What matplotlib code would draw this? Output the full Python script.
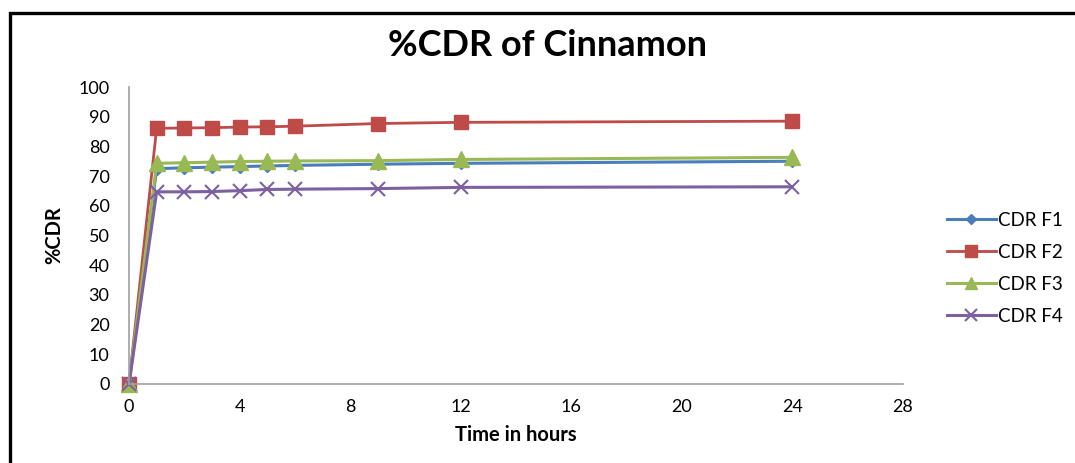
import numpy as np
import matplotlib.pyplot as plt
from matplotlib.patches import Rectangle

plt.rcParams['font.family'] = ['Lato', 'DejaVu Sans']

# release data
hours = [0, 1, 2, 3, 4, 5, 6, 9, 12, 24]
cdr_f1 = [0, 72.5, 72.8, 73.0, 73.2, 73.4, 73.6, 74.0, 74.3, 75.0]
cdr_f2 = [0, 86.1, 86.2, 86.3, 86.5, 86.6, 86.8, 87.7, 88.1, 88.5]
cdr_f3 = [0, 74.3, 74.5, 74.7, 74.9, 75.0, 75.1, 75.2, 75.6, 76.3]
cdr_f4 = [0, 64.7, 64.7, 64.8, 65.1, 65.5, 65.6, 65.8, 66.2, 66.4]
labels = ['CDR F1', 'CDR F2', 'CDR F3', 'CDR F4']
x_ticks = [0, 4, 8, 12, 16, 20, 24, 28]
y_ticks = range(0, 101, 10)

fig = plt.figure(figsize=(10.75, 4.63), dpi=100)
ax = fig.add_axes([129/1075, 79/463, 774/1075, 297/463])

ax.plot(hours, cdr_f1, color='#4A7EBB', lw=2.2, marker='D', ms=6.5, label=labels[0])
ax.plot(hours, cdr_f2, color='#BE4B48', lw=2, marker='s', ms=10, label=labels[1])
ax.plot(hours, cdr_f3, color='#98B954', lw=2.2, marker='^', ms=11, label=labels[2])
ax.plot(hours, cdr_f4, color='#7D60A0', lw=2.2, marker='x', ms=10, mew=1.5, label=labels[3])
for ln in ax.lines:
    ln.set_clip_on(False)

ax.set_xlim(0, 28)
ax.set_ylim(0, 100)
ax.set_xticks(x_ticks)
ax.set_yticks(list(y_ticks))
ax.tick_params(length=0, labelsize=13)
ax.tick_params(axis='y', pad=14)
ax.tick_params(axis='x', pad=11)
for s in ['top', 'right']:
    ax.spines[s].set_visible(False)
for s in ['left', 'bottom']:
    ax.spines[s].set_color('#A0A0A0')
    ax.spines[s].set_linewidth(1.2)

ax.set_xlabel('Time in hours', fontsize=14.5, fontweight='bold', labelpad=7)
ax.set_ylabel('%CDR', fontsize=14.5, fontweight='bold', labelpad=10)
fig.text(548/1075, 1 - 46/463, '%CDR of Cinnamon', fontsize=26, fontweight='bold',
         ha='center', va='center')

leg = fig.legend(loc='upper left', bbox_to_anchor=(930/1075, 1 - 195/463), frameon=False,
                 fontsize=13.5, handlelength=2.6, labelspacing=0.8, handletextpad=0.15,
                 markerscale=0.8)

# outer chart frame (only top and left edges visible)
fig.patches.append(Rectangle((10/1075, -0.1), 1.2, 1 - 13/463 + 0.1, transform=fig.transFigure,
                             fill=False, edgecolor='black', lw=2.4))

fig.savefig('out.png', dpi=100)
